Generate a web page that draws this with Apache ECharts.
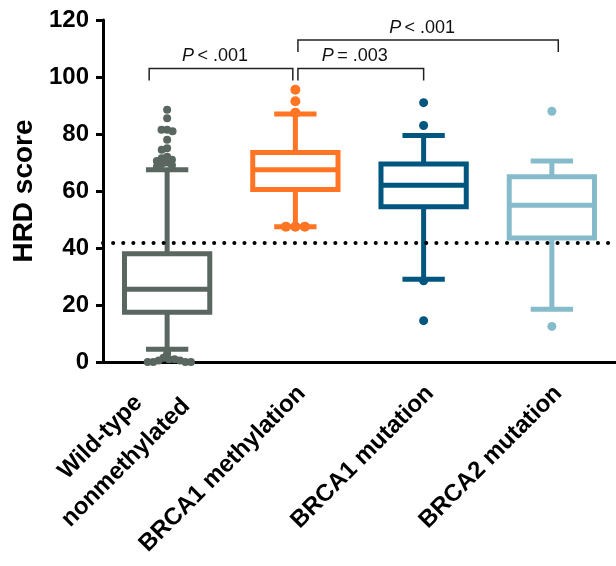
<!DOCTYPE html>
<html>
<head>
<meta charset="utf-8">
<script src="https://cdn.jsdelivr.net/npm/echarts@6/dist/echarts.min.js"></script>
<style>
  html, body { margin: 0; padding: 0; background: #fff; }
  #chart { width: 616px; height: 566px; }
</style>
</head>
<body>
<div id="chart"></div>
<script>
const groups = ['Wild-type\nnonmethylated', 'BRCA1 methylation', 'BRCA1 mutation', 'BRCA2 mutation'];
const groupColors = ['#5a6660', '#ff7524', '#00567f', '#86bbcb'];

// min, Q1, median, Q3, max (whisker ends)
const boxWT = [4.5, 17.5, 25.5, 38, 67.5];
const boxMeth = [47.5, 60.5, 67.5, 73.5, 87];
const boxMut1 = [29, 54.5, 62, 69.5, 79.5];
const boxMut2 = [18.5, 43.5, 55, 65, 70.5];

const outWT = [88.5, 85.5, 81.5, 81.5, 81, 78, 75, 74.5, 72, 71.5, 71, 70.5, 70, 69.5, 69, 68.5,
  3, 1.5, 1, 1, 0.5, 0.5, 0, 0, 0, 0];
const outMeth = [95.5, 91.5, 87.5, 47.5, 47.5, 47.5];
const outMut1 = [91, 83, 28.5, 14.5];
const outMut2 = [88, 12.5];

const hrdCutoff = 42;

// significance brackets (x in category units, level in HRD units)
const bracketFrom = [-0.14, 1.02, 1.02];
const bracketTo = [0.98, 2.0, 3.05];
const bracketLevel = [103, 103, 113];
const bracketText = ['< .001', '= .003', '< .001'];

const FONT = '"Liberation Sans", Arial, sans-serif';
const boxes = [boxWT, boxMeth, boxMut1, boxMut2];
const outliers = [outWT, outMeth, outMut1, outMut2];
const dotSize = [8, 10, 9, 9];
const swarmGap = [0.7, 0.95, 0.95, 0.95];

const chart = echarts.init(document.getElementById('chart'));

function renderBox(params, api) {
  const i = api.value(0);
  const band = api.size([1, 0])[0];
  const w = band * 0.665, cw = band * 0.33;
  const pt = k => api.coord([i, api.value(k)]);
  const x = pt(1)[0];
  const yMin = pt(1)[1], yQ1 = pt(2)[1], yMed = pt(3)[1], yQ3 = pt(4)[1], yMax = pt(5)[1];
  const st = { stroke: groupColors[i], lineWidth: 5, fill: null };
  return {
    type: 'group',
    children: [
      { type: 'line', shape: { x1: x, y1: yQ3, x2: x, y2: yMax }, style: st },
      { type: 'line', shape: { x1: x, y1: yQ1, x2: x, y2: yMin }, style: st },
      { type: 'line', shape: { x1: x - cw / 2, y1: yMax, x2: x + cw / 2, y2: yMax }, style: st },
      { type: 'line', shape: { x1: x - cw / 2, y1: yMin, x2: x + cw / 2, y2: yMin }, style: st },
      { type: 'rect', shape: { x: x - w / 2, y: yQ3, width: w, height: yQ1 - yQ3 },
        style: { stroke: groupColors[i], lineWidth: 5, fill: '#fff' } },
      { type: 'line', shape: { x1: x - w / 2, y1: yMed, x2: x + w / 2, y2: yMed }, style: st }
    ]
  };
}

function renderBracket(params, api) {
  const c0 = api.coord([0, api.value(2)]);
  const band = api.size([1, 0])[0];
  const x1 = c0[0] + api.value(0) * band;
  const x2 = c0[0] + api.value(1) * band;
  const y = c0[1];
  const st = { stroke: '#222', lineWidth: 1.5, fill: null };
  return {
    type: 'group',
    children: [
      { type: 'polyline', shape: { points: [[x1, y + 12], [x1, y], [x2, y], [x2, y + 12]] }, style: st },
      { type: 'text', x: (x1 + x2) / 2 - 6, y: y - 3,
        style: {
          text: '{p|P} {t|' + bracketText[params.dataIndex] + '}',
          align: 'center', verticalAlign: 'bottom',
          rich: {
            p: { fontFamily: FONT, fontSize: 18, fontStyle: 'italic', fill: '#111' },
            t: { fontFamily: FONT, fontSize: 18, fill: '#111' }
          }
        } }
    ]
  };
}

function swarm(ys, d) {
  const order = ys.map((y, i) => i).sort((a, b) => ys[a] - ys[b]);
  const placed = [];
  const xs = new Array(ys.length);
  order.forEach(i => {
    const y = ys[i];
    const cands = [0];
    placed.forEach(p => {
      const dy = Math.abs(p.y - y);
      if (dy < d) {
        const dx = Math.sqrt(d * d - dy * dy);
        cands.push(p.x + dx, p.x - dx);
      }
    });
    cands.sort((a, b) => Math.abs(a) - Math.abs(b) || a - b);
    const x = cands.find(c => placed.every(p => (p.x - c) ** 2 + (p.y - y) ** 2 >= d * d - 0.01));
    placed.push({ x, y });
    xs[i] = x;
  });
  return xs;
}

function scatterSeries(offsets) {
  return outliers.map((vals, g) => ({
    type: 'scatter',
    symbol: 'circle',
    symbolSize: dotSize[g],
    itemStyle: { color: groupColors[g], opacity: 1 },
    z: 5,
    data: vals.map((v, k) => ({
      value: [g, v],
      symbolOffset: offsets ? [offsets[g][k], 0] : [0, 0]
    }))
  }));
}

const option = {
  animation: false,
  backgroundColor: '#fff',
  grid: { left: 103, right: 0, top: 20, bottom: 204 },
  xAxis: {
    type: 'category',
    data: groups,
    axisLine: { lineStyle: { color: '#000', width: 3 } },
    axisTick: { alignWithLabel: true, length: 10, lineStyle: { color: '#000', width: 3 } },
    axisLabel: {
      interval: 0, rotate: 45, margin: 34,
      padding: [0, -9, 0, 0],
      fontFamily: FONT, fontSize: 24, fontWeight: 'bold', color: '#000',
      formatter: v => v.indexOf('\n') >= 0 ? v.split('\n').map(s => '{c|' + s + '}').join('\n') : v,
      rich: { c: { align: 'center', fontFamily: FONT, fontSize: 24, fontWeight: 'bold', color: '#000', lineHeight: 36 } }
    }
  },
  yAxis: {
    type: 'value',
    min: 0, max: 120, interval: 20,
    name: 'HRD score',
    nameLocation: 'middle',
    nameGap: 65,
    nameTextStyle: { fontFamily: FONT, fontSize: 28, fontWeight: 'bold', color: '#000' },
    axisLine: { show: true, lineStyle: { color: '#000', width: 3 } },
    axisTick: { show: true, length: 7, lineStyle: { color: '#000', width: 3 } },
    axisLabel: { margin: 14, fontFamily: FONT, fontSize: 24, fontWeight: 'bold', color: '#000' },
    splitLine: { show: false }
  },
  series: [
    {
      type: 'custom',
      renderItem: renderBox,
      encode: { x: 0, y: [1, 2, 3, 4, 5] },
      data: boxes.map((b, i) => [i].concat(b)),
      z: 3,
      markLine: {
        silent: true,
        symbol: 'none',
        label: { show: false },
        lineStyle: { color: '#000', width: 4, type: [0.1, 10], cap: 'round' },
        data: [{ yAxis: hrdCutoff }]
      }
    },
    {
      type: 'custom',
      renderItem: renderBracket,
      data: bracketFrom.map((f, i) => [f, bracketTo[i], bracketLevel[i]]),
      z: 4
    }
  ].concat(scatterSeries(null))
};

chart.setOption(option);

// spread overlapping outliers sideways (beeswarm)
const offsets = outliers.map((vals, g) => {
  const ys = vals.map(v => chart.convertToPixel({ gridIndex: 0 }, [g, v])[1]);
  return swarm(ys, dotSize[g] * swarmGap[g]);
});
option.series = option.series.slice(0, 2).concat(scatterSeries(offsets));
chart.setOption(option, true);
</script>
</body>
</html>
